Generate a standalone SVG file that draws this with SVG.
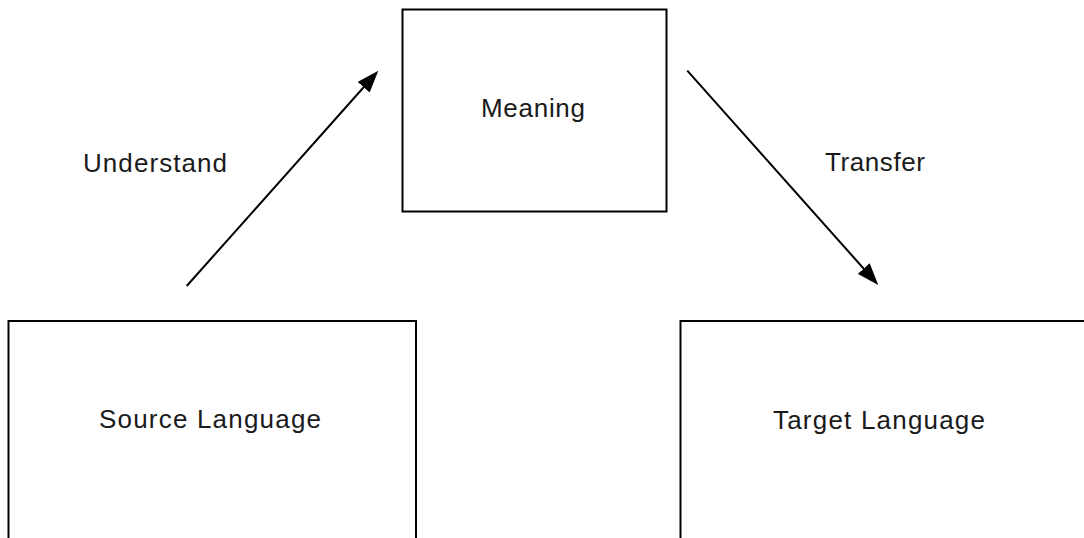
<svg xmlns="http://www.w3.org/2000/svg" width="1084" height="538" viewBox="0 0 1084 538">
  <style>
    .box { fill: #ffffff; stroke: #000000; stroke-width: 2; }
    .lbl { font-family: "Liberation Sans", Arial, sans-serif; font-size: 26px; fill: #1a1a1a; }
    .edge { stroke: #000000; stroke-width: 2; fill: none; }
  </style>
  <defs>
    <marker id="arrow" viewBox="0 0 22 16" refX="11" refY="8" markerWidth="22" markerHeight="16" markerUnits="userSpaceOnUse" orient="auto">
      <path d="M0,0 L22,8 L0,16 Z" fill="#000000"/>
    </marker>
  </defs>
  <rect width="1084" height="538" fill="#ffffff"/>
  <g id="meaning">
    <rect class="box" x="402.5" y="9.5" width="264" height="202"/>
    <text class="lbl" x="481" y="117" textLength="104" lengthAdjust="spacing">Meaning</text>
  </g>
  <g id="source-language">
    <rect class="box" x="8.5" y="321" width="407.5" height="240"/>
    <text class="lbl" x="99" y="428" textLength="222" lengthAdjust="spacing">Source Language</text>
  </g>
  <g id="target-language">
    <rect class="box" x="680.5" y="321" width="420" height="240"/>
    <text class="lbl" x="773" y="429" textLength="212" lengthAdjust="spacing">Target Language</text>
  </g>
  <g id="connectors">
    <line class="edge" x1="186.7" y1="286" x2="371" y2="79" marker-end="url(#arrow)"/>
    <line class="edge" x1="687.3" y1="70.7" x2="871" y2="276.8" marker-end="url(#arrow)"/>
    <text class="lbl" x="83" y="172" textLength="144" lengthAdjust="spacing">Understand</text>
    <text class="lbl" x="825" y="171" textLength="100" lengthAdjust="spacing">Transfer</text>
  </g>
</svg>
